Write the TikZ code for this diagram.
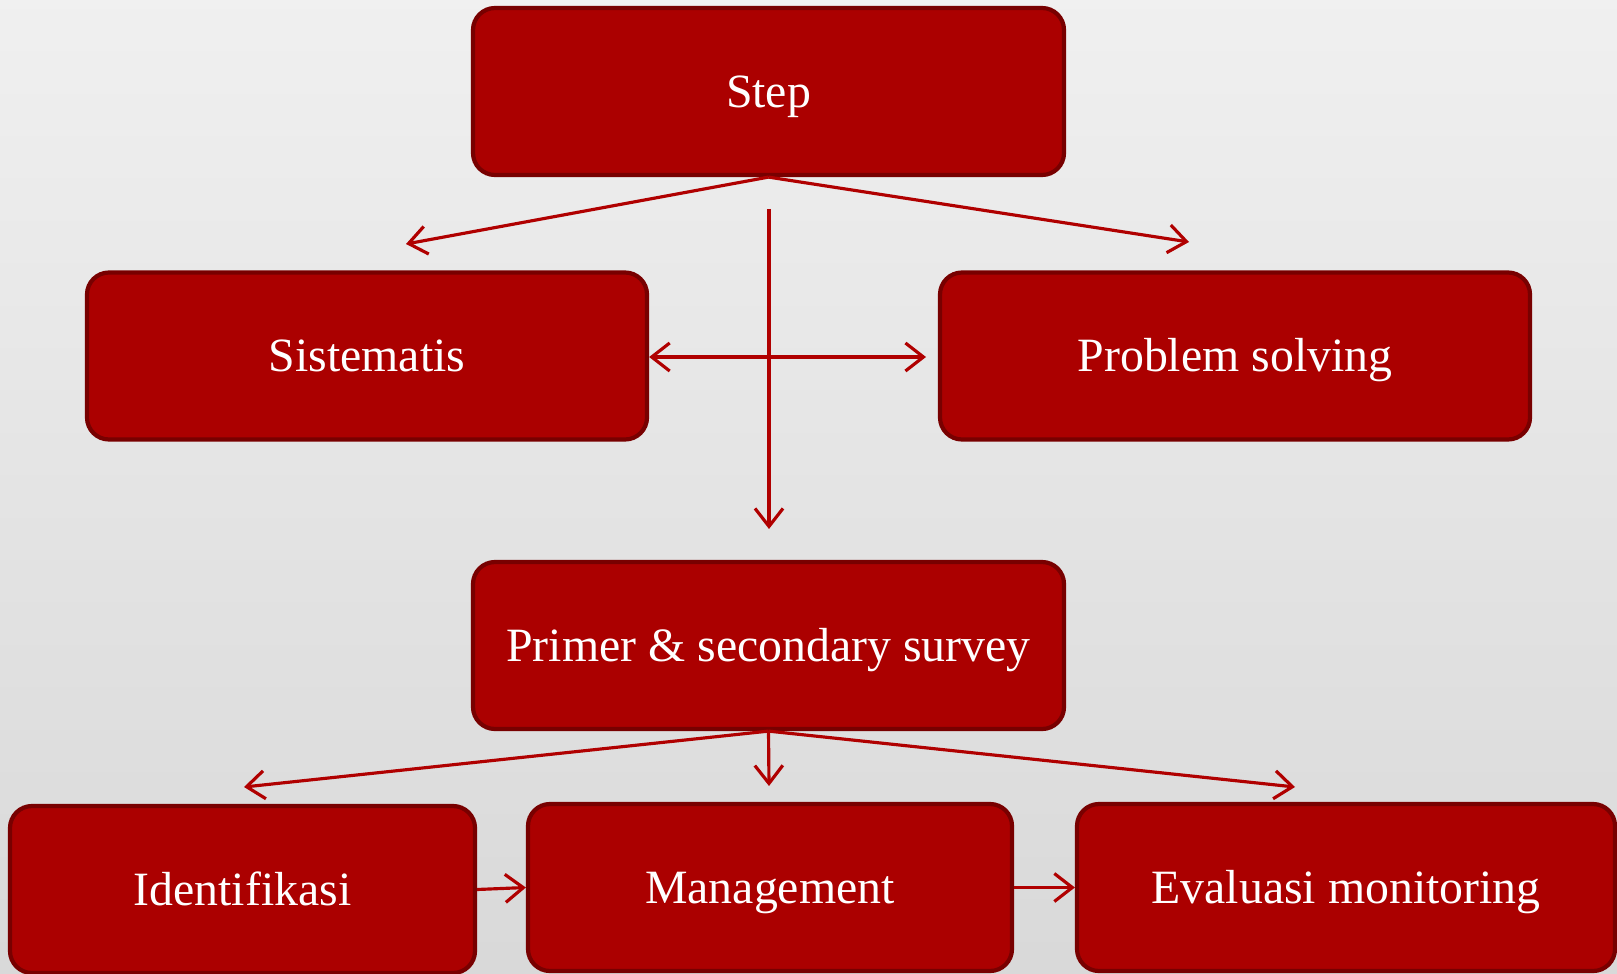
\documentclass[tikz,border=0pt]{standalone}
\usepackage{fontspec}
\setmainfont{Liberation Serif}
\usepackage{tikz}
\usetikzlibrary{arrows.meta}
\usetikzlibrary{calc}
\definecolor{boxred}{rgb}{0.67, 0.0, 0.0}
\definecolor{rimred}{rgb}{0.47, 0.0, 0.0}
\definecolor{linered}{rgb}{0.69, 0.0, 0.0}
\definecolor{paperlight}{rgb}{0.94, 0.94, 0.94}
\definecolor{paperdark}{rgb}{0.85, 0.85, 0.85}
\tikzset{
  redbox/.style={rectangle, rounded corners=0.22cm, fill=boxred, draw=rimred,
    line width=1.2pt, text=white, inner sep=0pt, align=center,
    text height=9pt, text depth=0pt,
    font=\fontsize{13.6}{16}\selectfont},
  redarrow/.style={draw=linered, line width=0.9pt,
    -{Straight Barb[length=1.8mm,width=2.8mm]}}
}

\begin{document}
\begin{tikzpicture}
							\useasboundingbox (0,0) rectangle (16.17,-9.73);
							\clip (0,0) rectangle (16.17,-9.73);
							\shade[top color=paperlight, bottom color=paperdark] (0,0) rectangle (16.17,-9.73);

							\def\boxh{1.67}

							\node[redbox, minimum width=5.91cm, minimum height=\boxh cm] (step) at (7.685,-0.915) {Step};
							\node[redbox, minimum width=5.60cm, minimum height=\boxh cm] (sis) at (3.67,-3.56) {Sistematis};
							\node[redbox, minimum width=5.90cm, minimum height=\boxh cm] (prob) at (12.35,-3.56) {Problem solving};
							\node[redbox, minimum width=5.91cm, minimum height=\boxh cm] (survey) at (7.685,-6.455) {Primer \& secondary survey};
							\node[redbox, minimum width=4.65cm, minimum height=\boxh cm] (ident) at (2.425,-8.895) {Identifikasi};
							\node[redbox, minimum width=4.84cm, minimum height=\boxh cm] (manage) at (7.70,-8.875) {Management};
							\node[redbox, minimum width=5.38cm, minimum height=\boxh cm] (eval) at (13.46,-8.875) {Evaluasi monitoring};

							\coordinate (stepl) at (4.06,-2.44);
							\coordinate (stepr) at (11.89,-2.42);
							\coordinate (vtop) at (7.69,-2.09);
							\coordinate (vbot) at (7.69,-5.29);
							\coordinate (hright) at (9.26,-3.57);
							\coordinate (survl) at (2.44,-7.87);
							\coordinate (survm) at (7.69,-7.86);
							\coordinate (survr) at (12.95,-7.87);

							\draw[redarrow] (step.south) -- (stepl);
							\draw[redarrow] (step.south) -- (stepr);
							\draw[redarrow] (vtop) -- (vbot);
							\draw[redarrow, {Straight Barb[length=1.8mm,width=2.8mm]}-{Straight Barb[length=1.8mm,width=2.8mm]}] (sis.east |- hright) -- (hright);

							\draw[redarrow] (survey.south) -- (survl);
							\draw[redarrow] (survey.south) -- (survm);
							\draw[redarrow] (survey.south) -- (survr);

							\draw[redarrow] (ident.east) -- (manage.west);
							\draw[redarrow] (manage.east) -- (eval.west);
						\end{tikzpicture}
\end{document}
